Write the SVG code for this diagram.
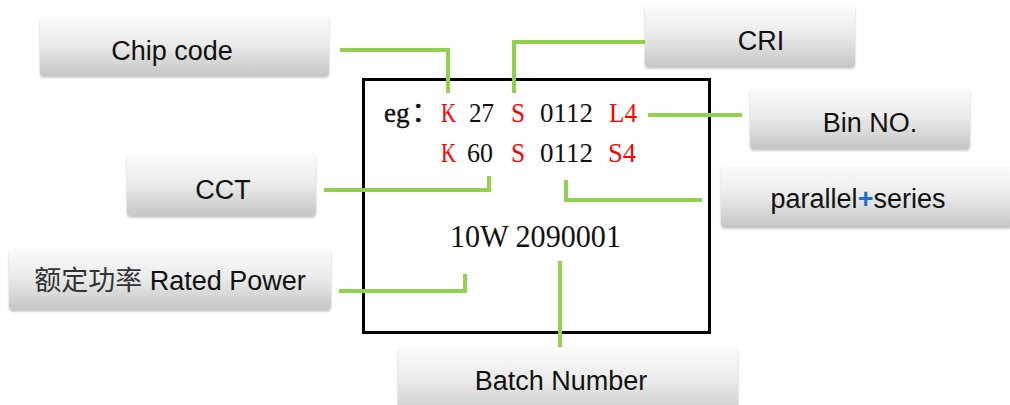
<svg xmlns="http://www.w3.org/2000/svg" width="1010" height="405" viewBox="0 0 1010 405">
<defs>
<linearGradient id="g" x1="0" y1="0" x2="0" y2="1">
<stop offset="0" stop-color="#fbfbfb"/>
<stop offset="0.45" stop-color="#ececec"/>
<stop offset="1" stop-color="#c6c6c6"/>
</linearGradient>
<filter id="sh" x="-5%" y="-10%" width="110%" height="130%">
<feDropShadow dx="0" dy="1.5" stdDeviation="1" flood-color="#000" flood-opacity="0.25"/>
</filter>
</defs>
<style>
.box{fill:url(#g);filter:url(#sh)}
.lbl{font-family:"Liberation Sans",Arial,"Noto Sans CJK SC",sans-serif;font-size:27px;fill:#111;text-anchor:middle}
.cjk{font-family:"Noto Sans CJK SC",sans-serif;fill:#333}
.ser{font-family:"Liberation Serif","Times New Roman","Noto Sans CJK SC",serif;font-size:27px;fill:#111}
.red{fill:#ff0000}
.con{fill:none;stroke:#92d050;stroke-width:4}
</style>
<rect width="1010" height="405" fill="#ffffff"/>
<g id="panel">
<rect x="363.5" y="79.5" width="346" height="253" fill="#ffffff" stroke="#000" stroke-width="3"/>
<text class="ser" x="384" y="122" stroke="#111" stroke-width="0.4">eg<tspan dx="2">：</tspan></text>
<text class="ser red" x="441" y="122" textLength="15" lengthAdjust="spacingAndGlyphs">K</text>
<text class="ser" x="469" y="122" textLength="25" lengthAdjust="spacingAndGlyphs">27</text>
<text class="ser red" x="511" y="122" textLength="14" lengthAdjust="spacingAndGlyphs">S</text>
<text class="ser" x="540" y="122" textLength="53" lengthAdjust="spacingAndGlyphs">0112</text>
<text class="ser red" x="609" y="122" textLength="28" lengthAdjust="spacingAndGlyphs">L4</text>
<text class="ser red" x="441" y="162" textLength="15" lengthAdjust="spacingAndGlyphs">K</text>
<text class="ser" x="467" y="162" textLength="26" lengthAdjust="spacingAndGlyphs">60</text>
<text class="ser red" x="511" y="162" textLength="14" lengthAdjust="spacingAndGlyphs">S</text>
<text class="ser" x="540" y="162" textLength="53" lengthAdjust="spacingAndGlyphs">0112</text>
<text class="ser red" x="608" y="162" textLength="28" lengthAdjust="spacingAndGlyphs">S4</text>
<text class="ser" x="450" y="247" style="font-size:32px" textLength="171" lengthAdjust="spacingAndGlyphs">10W 2090001</text>
</g>
<g id="connectors">
<path class="con" d="M340,50 H448 V93"/>
<path class="con" d="M514,93 V42 H646"/>
<path class="con" d="M648,115 H742"/>
<path class="con" d="M566,180 V200 H702"/>
<path class="con" d="M324,190 H489 V176"/>
<path class="con" d="M339,291 H465 V274"/>
<path class="con" d="M560,261 V360"/>
</g>
<g id="chip-code">
<rect class="box" x="40" y="16" width="289" height="60" rx="4"/>
<text class="lbl" x="172" y="60">Chip code</text>
</g>
<g id="cri">
<rect class="box" x="645" y="5" width="210" height="62" rx="4"/>
<text class="lbl" x="761" y="50">CRI</text>
</g>
<g id="bin-no">
<rect class="box" x="750" y="88" width="220" height="61" rx="4"/>
<text class="lbl" x="870" y="132">Bin NO.</text>
</g>
<g id="parallel-series">
<rect class="box" x="721" y="166" width="300" height="61" rx="4"/>
<text class="lbl" x="858" y="208">parallel<tspan fill="#1f6fd1" font-weight="bold">+</tspan>series</text>
</g>
<g id="cct">
<rect class="box" x="127" y="155" width="189" height="61" rx="4"/>
<text class="lbl" x="223" y="199">CCT</text>
</g>
<g id="rated-power">
<rect class="box" x="9" y="249" width="322" height="61" rx="4"/>
<text class="lbl" x="170" y="290"><tspan class="cjk">额定功率</tspan> Rated Power</text>
</g>
<g id="batch-number">
<rect class="box" x="398" y="347" width="340" height="70" rx="4"/>
<text class="lbl" x="561" y="390">Batch Number</text>
</g>
</svg>
